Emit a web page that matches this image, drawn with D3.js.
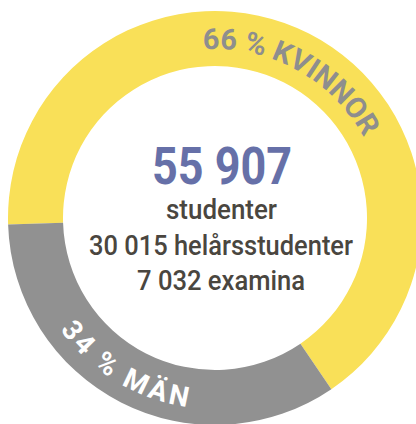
<!DOCTYPE html>
<html><head><meta charset="utf-8">
<script src="https://cdn.jsdelivr.net/npm/d3@7"></script>
<style>
html,body{margin:0;padding:0;background:#fff;}
svg{display:block;}
text{font-family:Roboto,'Liberation Sans',sans-serif;}
</style></head>
<body>
<svg id="c" width="416" height="424"></svg>
<script>
// data
const categories = ["KVINNOR", "MÄN"];
const shares = [66, 34];
const sliceLabels = ["66 % KVINNOR", "34 % MÄN"];
const totalLabel = "55 907";
const infoLines = ["studenter", "30 015 helårsstudenter", "7 032 examina"];

const W = 416, H = 424;
const cx = 215, cy = 218, R = 207, r = 152;
const colors = ["#F9E058", "#919191"];
const labelColors = ["#8E8E8E", "#FFFFFF"];
const deg = Math.PI / 180;

const svg = d3.select("#c");
const g = svg.append("g").attr("transform", `translate(${cx},${cy})`);

const a0 = -91.8 * deg;
const pie = d3.pie().sort(null).startAngle(a0).endAngle(a0 + 2 * Math.PI);
const arc = d3.arc().innerRadius(r).outerRadius(R);
const slices = pie(shares);

g.selectAll("path.slice").data(slices).enter().append("path")
  .attr("class", "slice")
  .attr("d", arc)
  .attr("fill", (d, i) => colors[i]);

// curved label paths
function arcPath(rad, from, to) {
  const p = d3.path();
  const f = from - Math.PI / 2, t = to - Math.PI / 2;
  p.arc(0, 0, rad, f, t, to < from);
  return p.toString();
}
const labelSpec = [
  {rad: 169, from: -4 * deg, to: 61.5 * deg, size: 29},
  {rad: 191, from: 234.2 * deg, to: 188.5 * deg, size: 28}
];
const defs = svg.append("defs");
labelSpec.forEach((s, i) => {
  defs.append("path").attr("id", "lp" + i)
    .attr("d", arcPath(s.rad, s.from, s.to))
    .attr("transform", `translate(${cx},${cy})`);
  const len = Math.abs(s.to - s.from) * s.rad;
  svg.append("text")
    .attr("font-size", s.size)
    .attr("font-weight", "bold")
    .attr("fill", labelColors[i])
    .append("textPath")
    .attr("href", "#lp" + i)
    .attr("textLength", len)
    .attr("lengthAdjust", "spacing")
    .text(sliceLabels[i]);
});

// centre text
const centre = [
  {t: totalLabel, y: 184, size: 51, w: 140, x: 222, c: "#6670A8", fw: "bold"},
  {t: infoLines[0], y: 219, size: 27, w: 111, x: 221.5, c: "#4A463F", fw: "500"},
  {t: infoLines[1], y: 255, size: 27, w: 264, x: 221, c: "#4A463F", fw: "500"},
  {t: infoLines[2], y: 290, size: 27, w: 168, x: 221, c: "#4A463F", fw: "500"}
];
centre.forEach(d => {
  svg.append("text")
    .attr("x", d.x - d.w / 2)
    .attr("y", d.y)
    .attr("font-size", d.size)
    .attr("font-weight", d.fw)
    .attr("fill", d.c)
    .attr("textLength", d.w)
    .attr("lengthAdjust", "spacingAndGlyphs")
    .text(d.t);
});
</script>
</body></html>
